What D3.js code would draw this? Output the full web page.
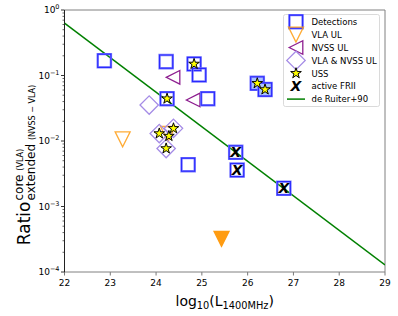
<!DOCTYPE html>
<html><head><meta charset="utf-8">
<script src="https://cdn.jsdelivr.net/npm/d3@7"></script>
<style>body{margin:0;background:#fff}svg{display:block}text{font-family:"DejaVu Sans",sans-serif}</style>
</head><body><svg id="c" width="398" height="316"></svg>
<script>
// ---- data ----
const detL = [22.87, 24.22, 24.83, 24.94, 24.24, 25.13, 24.70, 25.74, 25.77, 26.79];
const detR = [0.168, 0.163, 0.15, 0.102, 0.0442, 0.0442, 0.00435, 0.00672, 0.0036, 0.0019];
const detFillL = [26.21, 26.38];
const detFillR = [0.076, 0.0611];
const vlaUlL = [23.27, 24.26];
const vlaUlR = [0.0106, 0.0128];
const vlaUlFillL = [25.43];
const vlaUlFillR = [0.00032];
const nvssUlL = [24.37, 24.81];
const nvssUlR = [0.0938, 0.0423];
const bothUlL = [23.85, 24.07, 24.38, 24.22];
const bothUlR = [0.0354, 0.0130, 0.0156, 0.00768];
const ussL = [24.83, 24.24, 26.21, 26.38, 24.07, 24.38, 24.22, 24.28];
const ussR = [0.15, 0.0442, 0.076, 0.0611, 0.0130, 0.0156, 0.00768, 0.0119];
const friiL = [25.74, 25.77, 26.79];
const friiR = [0.00672, 0.0036, 0.0019];
const ruiterL = [22, 29];
const ruiterR = [0.63, 0.000128];
const xTicks = [22, 23, 24, 25, 26, 27, 28, 29];
const yExps = [0, -1, -2, -3, -4];
const legendLabels = ["Detections", "VLA UL", "NVSS UL", "VLA & NVSS UL", "USS", "active FRII", "de Ruiter+90"];

// ---- layout ----
const svg = d3.select("#c");
const L = 64.5, R = 385, T = 10, B = 272;
const x = d3.scaleLinear().domain([22, 29]).range([L, R]);
const y = d3.scaleLog().domain([1e-4, 1]).range([B, T]);

const zip = (a, b) => a.map((v, i) => [v, b[i]]);

// ticks
const gx = svg.append("g");
xTicks.forEach(t => {
  gx.append("line").attr("x1", x(t)).attr("x2", x(t)).attr("y1", B).attr("y2", B + 3.5).attr("stroke", "#555").attr("stroke-width", 0.8);
  gx.append("text").attr("x", x(t)).attr("y", B + 13.5).attr("text-anchor", "middle").attr("font-size", 9).attr("fill", "#000").text(t);
});
const gy = svg.append("g");
yExps.forEach(e => {
  const v = Math.pow(10, e);
  gy.append("line").attr("x1", L - 3.5).attr("x2", L).attr("y1", y(v)).attr("y2", y(v)).attr("stroke", "#000").attr("stroke-width", 0.8);
  const t = gy.append("text").attr("x", L - 5).attr("y", y(v) + 3.2).attr("text-anchor", "end").attr("font-size", 9).attr("fill", "#000");
  t.append("tspan").text("10");
  t.append("tspan").attr("dy", -4).attr("font-size", 6.5).text(e === 0 ? "0" : "\u2212" + (-e));
  if (e > -4) {
    for (let m = 2; m <= 9; m++) {
      const vv = m * Math.pow(10, e - 1);
      gy.append("line").attr("x1", L - 2).attr("x2", L).attr("y1", y(vv)).attr("y2", y(vv)).attr("stroke", "#000").attr("stroke-width", 0.6);
    }
  }
});

// spines
svg.append("line").attr("x1", L).attr("x2", R).attr("y1", T).attr("y2", T).attr("stroke", "#808080");
svg.append("line").attr("x1", R).attr("x2", R).attr("y1", T).attr("y2", B).attr("stroke", "#808080");
svg.append("line").attr("x1", L).attr("x2", R).attr("y1", B).attr("y2", B).attr("stroke", "#808080");
svg.append("line").attr("x1", L).attr("x2", L).attr("y1", T).attr("y2", B).attr("stroke", "#222");

// clip
svg.append("clipPath").attr("id", "clip").append("rect").attr("x", L).attr("y", T).attr("width", R - L).attr("height", B - T);
const plot = svg.append("g").attr("clip-path", "url(#clip)");

// marker paths
const sq = s => `M${-s},${-s}H${s}V${s}H${-s}Z`;
const triDown = s => `M0,${s}L${-s},${-s}L${s},${-s}Z`;
const triLeft = s => `M${-s},0L${s},${-s}L${s},${s}Z`;
const diamond = s => `M0,${-s}L${s},0L0,${s}L${-s},0Z`;
const star = (ro) => {
  const ri = ro * 0.381966; let p = "";
  for (let i = 0; i < 10; i++) {
    const r = i % 2 ? ri : ro, a = Math.PI * i / 5;
    p += (i ? "L" : "M") + (r * Math.sin(a)).toFixed(2) + "," + (-r * Math.cos(a)).toFixed(2);
  }
  return p + "Z";
};

function drawSquare(g, cx, cy, filled) {
  g.append("path").attr("transform", `translate(${cx},${cy})`).attr("d", sq(6.6))
    .attr("fill", filled ? "#a9c4ff" : "none").attr("stroke", "#7f7fff").attr("stroke-width", 2.4);
  g.append("path").attr("transform", `translate(${cx},${cy})`).attr("d", sq(6.6))
    .attr("fill", "none").attr("stroke", "#2a2aff").attr("stroke-width", 1.1);
}
function drawTriDown(g, cx, cy, filled) {
  g.append("path").attr("transform", `translate(${cx},${cy})`).attr("d", triDown(7.5))
    .attr("fill", filled ? "#ff9c12" : "none").attr("stroke", "#ff9c12").attr("stroke-width", 1.3).attr("stroke-opacity", filled ? 1 : 0.85);
}
function drawTriLeft(g, cx, cy) {
  g.append("path").attr("transform", `translate(${cx},${cy})`).attr("d", triLeft(6.8))
    .attr("fill", "none").attr("stroke", "#8e1f90").attr("stroke-width", 1.3);
}
function drawDiamond(g, cx, cy) {
  g.append("path").attr("transform", `translate(${cx},${cy})`).attr("d", diamond(9.2))
    .attr("fill", "none").attr("stroke", "#a58ce6").attr("stroke-width", 1.3);
}
function drawStar(g, cx, cy) {
  g.append("path").attr("transform", `translate(${cx},${cy})`).attr("d", star(5.6))
    .attr("fill", "#ffff00").attr("stroke", "#000").attr("stroke-width", 1);
}
function drawX(g, cx, cy) {
  g.append("text").attr("x", cx).attr("y", cy + 5).attr("text-anchor", "middle")
    .attr("font-size", 14).attr("font-weight", "bold").attr("font-style", "italic").attr("fill", "#000").text("X");
}

// de Ruiter line
plot.append("path").datum(zip(ruiterL, ruiterR))
  .attr("d", d3.line().x(d => x(d[0])).y(d => y(d[1])))
  .attr("fill", "none").attr("stroke", "#008000").attr("stroke-width", 1.5);

zip(vlaUlL, vlaUlR).forEach(d => drawTriDown(plot, x(d[0]), y(d[1]), false));
zip(vlaUlFillL, vlaUlFillR).forEach(d => drawTriDown(plot, x(d[0]), y(d[1]), true));
zip(nvssUlL, nvssUlR).forEach(d => drawTriLeft(plot, x(d[0]), y(d[1])));
zip(bothUlL, bothUlR).forEach(d => drawDiamond(plot, x(d[0]), y(d[1])));
zip(detL, detR).forEach(d => drawSquare(plot, x(d[0]), y(d[1]), false));
zip(detFillL, detFillR).forEach(d => drawSquare(plot, x(d[0]), y(d[1]), true));
zip(ussL, ussR).forEach(d => drawStar(plot, x(d[0]), y(d[1])));
zip(friiL, friiR).forEach(d => drawX(plot, x(d[0]), y(d[1])));

// legend
const lg = svg.append("g");
lg.append("rect").attr("x", 283.5).attr("y", 14.5).attr("width", 96).attr("height", 92).attr("rx", 2)
  .attr("fill", "#fff").attr("fill-opacity", 0.8).attr("stroke", "#d0d0d0").attr("stroke-width", 0.8);
const rowY = i => 21.7 + i * 12.9;
const mx = 296;
legendLabels.forEach((lab, i) => {
  lg.append("text").attr("x", 311.5).attr("y", rowY(i) + 3.2).attr("font-size", 8.5).attr("fill", "#000").text(lab);
});
drawSquare(lg, mx, rowY(0), false);
drawTriDown(lg, mx, rowY(1), false);
drawTriLeft(lg, mx, rowY(2));
drawDiamond(lg, mx, rowY(3));
drawStar(lg, mx, rowY(4));
drawX(lg, mx, rowY(5));
lg.append("line").attr("x1", 287).attr("x2", 305).attr("y1", rowY(6)).attr("y2", rowY(6)).attr("stroke", "#008000").attr("stroke-width", 1.5);

// x label
const xl = svg.append("text").attr("x", (L + R) / 2).attr("y", 306).attr("text-anchor", "middle").attr("font-size", 14).attr("fill", "#000");
xl.append("tspan").text("log");
xl.append("tspan").attr("dy", 3).attr("font-size", 9.8).text("10");
xl.append("tspan").attr("dy", -3).text("(L");
xl.append("tspan").attr("dy", 3).attr("font-size", 9.8).text("1400MHz");
xl.append("tspan").attr("dy", -3).text(")");

// y label (rotated)
const yl = svg.append("g");
const ratio = yl.append("text").attr("font-size", 17).attr("fill", "#000").text("Ratio");
const rw = ratio.node().getComputedTextLength();
const sup = yl.append("text").attr("x", rw + 1).attr("y", -7.5).attr("font-size", 12).attr("fill", "#000");
sup.append("tspan").text("core ");
sup.append("tspan").attr("font-size", 8).text("(VLA)");
const sub = yl.append("text").attr("x", rw + 1).attr("y", 4.5).attr("font-size", 12).attr("fill", "#000");
sub.append("tspan").text("extended ");
sub.append("tspan").attr("font-size", 8).text("(NVSS \u2212 VLA)");
const totalW = rw + 1 + Math.max(sup.node().getComputedTextLength(), sub.node().getComputedTextLength());
const cy = 165;
yl.attr("transform", `translate(30,${cy + totalW / 2}) rotate(-90)`);
</script></body></html>
